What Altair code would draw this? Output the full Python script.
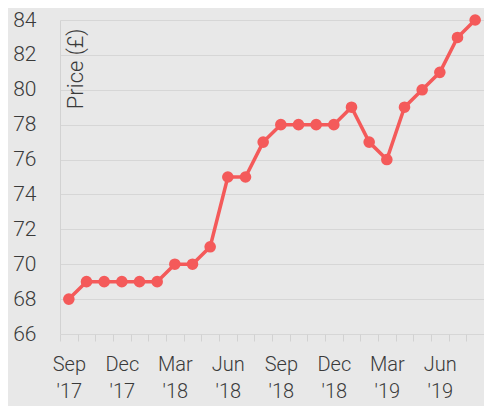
import json
import altair as alt
import pandas as pd

months = ["Sep '17", "Oct '17", "Nov '17", "Dec '17", "Jan '18", "Feb '18",
          "Mar '18", "Apr '18", "May '18", "Jun '18", "Jul '18", "Aug '18",
          "Sep '18", "Oct '18", "Nov '18", "Dec '18", "Jan '19", "Feb '19",
          "Mar '19", "Apr '19", "May '19", "Jun '19", "Jul '19", "Aug '19"]
prices = [68, 69, 69, 69, 69, 69, 70, 70, 71, 75, 75, 77,
          78, 78, 78, 78, 79, 77, 76, 79, 80, 81, 83, 84]
tick_months = ["Sep '17", "Dec '17", "Mar '18", "Jun '18",
               "Sep '18", "Dec '18", "Mar '19", "Jun '19"]
y_ticks = [66, 68, 70, 72, 74, 76, 78, 80, 82, 84]

df = pd.DataFrame({"month": months, "price": prices})

FONT = "Roboto"
TXT = "#3a3a3a"
RED = "#f45a5a"

label_expr = ("indexof(" + json.dumps(tick_months) +
              ", datum.value) >= 0 ? split(datum.value, ' ') : ''")

x = alt.X("month:O", sort=months, scale=alt.Scale(paddingInner=0, paddingOuter=0),
          axis=alt.Axis(title=None, labelAngle=0, labelExpr=label_expr,
                        tickBand="extent", tickSize=7, tickColor="#d2d2d2",
                        domain=False, labelFont=FONT, labelFontSize=20,
                        labelFontWeight=300, labelColor=TXT, labelPadding=13,
                        labelLineHeight=27, labelBaseline="top"))
y = alt.Y("price:Q", scale=alt.Scale(domain=[66, 84], nice=False, zero=False),
          axis=alt.Axis(values=y_ticks, title="Price (£)", ticks=False,
                        labelPadding=24, labelFont=FONT, labelFontSize=21,
                        labelFontWeight=300, labelColor=TXT,
                        domainColor="#d2d2d2", gridColor="#d6d6d6",
                        titleAngle=270, titleAlign="right", titleBaseline="top",
                        titleX=5, titleY=8, titleFont=FONT, titleFontSize=22,
                        titleFontWeight=300, titleColor=TXT))

line = alt.Chart(df).mark_line(color=RED, strokeWidth=3.5).encode(x=x, y=y)
pts = alt.Chart(df).mark_circle(color=RED, opacity=1, size=135).encode(x=x, y=y)

chart = (line + pts).properties(
    width=424, height=314, background="#e8e8e8",
    autosize=alt.AutoSizeParams(type="none"),
    padding={"left": 52, "top": 12, "right": 0, "bottom": 72},
).configure_view(stroke=None)

chart.save("out.html", embed_options={"renderer": "svg", "actions": False})
